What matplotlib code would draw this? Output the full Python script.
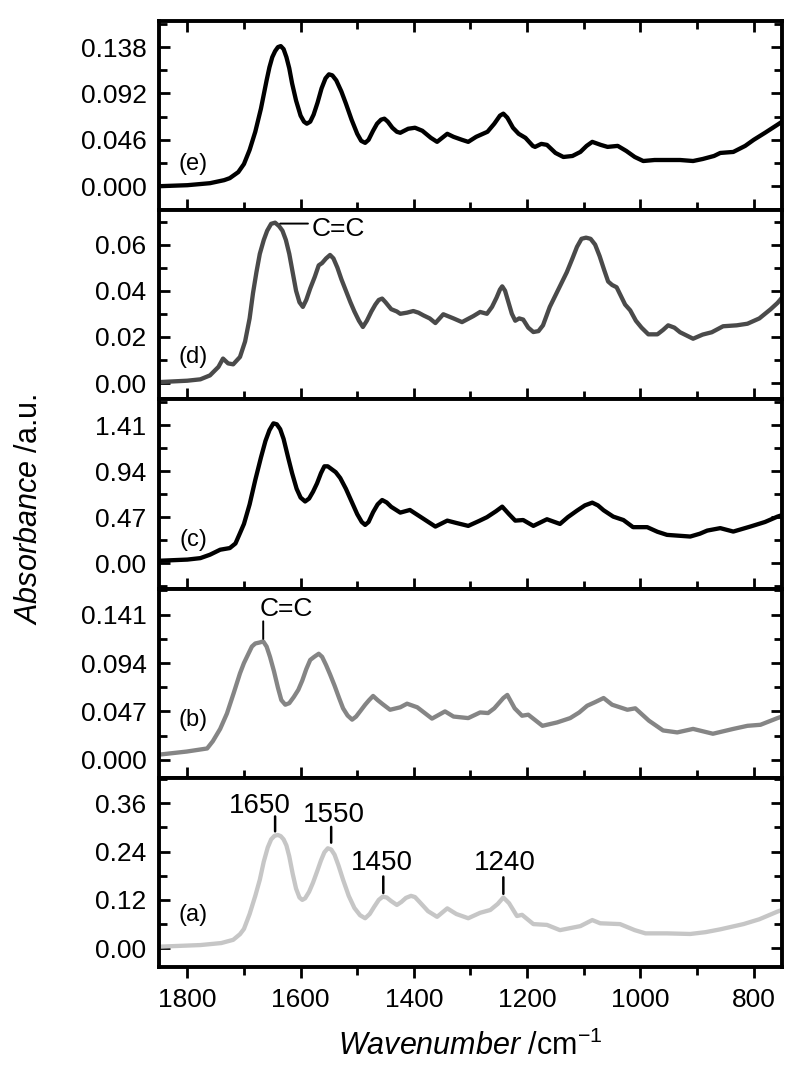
import matplotlib
matplotlib.use("Agg")
import matplotlib.pyplot as plt
from matplotlib.ticker import FixedLocator, FormatStrFormatter

plt.rcParams['font.family'] = ['Liberation Sans', 'DejaVu Sans']
plt.rcParams['mathtext.fontset'] = 'custom'
plt.rcParams['mathtext.rm'] = 'Liberation Sans'
plt.rcParams['mathtext.it'] = 'Liberation Sans:italic'

# ---------------- data ----------------
wn_e = [1850, 1800, 1760, 1735, 1725, 1710, 1700, 1690, 1680, 1670, 1660, 1655, 1650, 1645,
        1640, 1635, 1630, 1625, 1620, 1615, 1608, 1600, 1594, 1589, 1583, 1577, 1570, 1563,
        1556, 1550, 1544, 1537, 1528, 1520, 1510, 1500, 1493, 1486, 1480, 1472, 1465, 1458,
        1452, 1446, 1438, 1430, 1424, 1410, 1398, 1385, 1370, 1359, 1350, 1341, 1330, 1315,
        1304, 1290, 1270, 1258, 1248, 1242, 1235, 1225, 1215, 1203, 1190, 1186, 1175, 1165,
        1150, 1136, 1120, 1106, 1095, 1085, 1070, 1058, 1040, 1025, 1010, 995, 975, 953, 930,
        907, 890, 870, 859, 836, 815, 800, 780, 758, 750]
ab_e = [0.000, 0.001, 0.003, 0.006, 0.008, 0.014, 0.022, 0.036, 0.054, 0.077, 0.105, 0.118,
        0.128, 0.134, 0.138, 0.139, 0.136, 0.128, 0.117, 0.102, 0.085, 0.070, 0.064, 0.062,
        0.064, 0.071, 0.083, 0.097, 0.107, 0.111, 0.110, 0.105, 0.094, 0.082, 0.066, 0.052,
        0.045, 0.043, 0.046, 0.055, 0.062, 0.066, 0.067, 0.064, 0.058, 0.054, 0.053, 0.057,
        0.058, 0.055, 0.048, 0.044, 0.048, 0.052, 0.049, 0.046, 0.044, 0.049, 0.054, 0.062,
        0.070, 0.072, 0.068, 0.058, 0.052, 0.048, 0.040, 0.039, 0.042, 0.041, 0.033, 0.029,
        0.030, 0.034, 0.040, 0.044, 0.041, 0.039, 0.040, 0.035, 0.029, 0.025, 0.026, 0.026,
        0.026, 0.025, 0.027, 0.030, 0.033, 0.034, 0.040, 0.046, 0.053, 0.061, 0.064]

wn_d = [1850, 1800, 1777, 1760, 1745, 1737, 1728, 1719, 1707, 1698, 1690, 1684, 1678, 1672,
        1665, 1659, 1652, 1645, 1638, 1632, 1626, 1620, 1614, 1608, 1602, 1596, 1590, 1583,
        1575, 1568, 1562, 1555, 1548, 1542, 1535, 1528, 1520, 1512, 1505, 1497, 1490, 1483,
        1475, 1468, 1462, 1456, 1450, 1440, 1430, 1424, 1412, 1401, 1392, 1383, 1372, 1362,
        1348, 1340, 1330, 1315, 1295, 1283, 1271, 1262, 1254, 1248, 1244, 1239, 1233, 1227,
        1221, 1214, 1207, 1198, 1189, 1180, 1172, 1166, 1160, 1150, 1140, 1130, 1120, 1112,
        1104, 1096, 1088, 1080, 1072, 1064, 1057, 1050, 1042, 1035, 1027, 1018, 1008, 998,
        986, 970, 960, 951, 940, 930, 907, 890, 874, 854, 830, 811, 790, 770, 758, 750]
ab_d = [0.0004, 0.0010, 0.0016, 0.0033, 0.0070, 0.0106, 0.0085, 0.0081, 0.0113, 0.0180,
        0.0280, 0.0390, 0.0480, 0.0560, 0.0620, 0.0660, 0.0690, 0.0695, 0.0680, 0.0660,
        0.0620, 0.0560, 0.0480, 0.0400, 0.0350, 0.0330, 0.0360, 0.0410, 0.0460, 0.0510,
        0.0520, 0.0540, 0.0555, 0.0540, 0.0500, 0.0450, 0.0400, 0.0350, 0.0310, 0.0270,
        0.0243, 0.0270, 0.0310, 0.0340, 0.0360, 0.0366, 0.0350, 0.0320, 0.0310, 0.0300,
        0.0305, 0.0312, 0.0305, 0.0293, 0.0280, 0.0260, 0.0298, 0.0290, 0.0280, 0.0264,
        0.0290, 0.0308, 0.0300, 0.0330, 0.0370, 0.0405, 0.0419, 0.0400, 0.0350, 0.0300,
        0.0270, 0.0280, 0.0275, 0.0240, 0.0221, 0.0225, 0.0250, 0.0290, 0.0330, 0.0380,
        0.0430, 0.0480, 0.0540, 0.0590, 0.0625, 0.0630, 0.0625, 0.0600, 0.0550, 0.0490,
        0.0440, 0.0425, 0.0415, 0.0380, 0.0340, 0.0315, 0.0270, 0.0240, 0.0211, 0.0211,
        0.0230, 0.0250, 0.0240, 0.0220, 0.0192, 0.0210, 0.0220, 0.0246, 0.0250, 0.0257,
        0.0280, 0.0320, 0.0347, 0.0370]

wn_c = [1850, 1800, 1777, 1760, 1742, 1725, 1715, 1707, 1700, 1690, 1680, 1670, 1662, 1655,
        1648, 1642, 1636, 1630, 1622, 1615, 1607, 1600, 1592, 1585, 1578, 1571, 1564, 1558,
        1552, 1545, 1538, 1530, 1520, 1510, 1500, 1492, 1486, 1480, 1472, 1464, 1456, 1448,
        1440, 1424, 1407, 1385, 1362, 1341, 1325, 1304, 1285, 1271, 1255, 1244, 1232, 1221,
        1207, 1189, 1165, 1142, 1128, 1112, 1098, 1085, 1075, 1065, 1048, 1030, 1013, 988,
        970, 953, 912, 895, 882, 859, 836, 806, 780, 758, 750]
ab_c = [0.023, 0.035, 0.050, 0.085, 0.136, 0.153, 0.200, 0.306, 0.400, 0.600, 0.850, 1.080,
        1.250, 1.360, 1.430, 1.420, 1.370, 1.270, 1.080, 0.920, 0.760, 0.670, 0.630, 0.660,
        0.730, 0.815, 0.920, 0.990, 0.990, 0.960, 0.930, 0.870, 0.760, 0.630, 0.500, 0.420,
        0.390, 0.420, 0.520, 0.600, 0.645, 0.620, 0.575, 0.516, 0.543, 0.460, 0.373, 0.434,
        0.410, 0.380, 0.430, 0.469, 0.530, 0.577, 0.500, 0.434, 0.440, 0.380, 0.448, 0.400,
        0.470, 0.536, 0.590, 0.618, 0.590, 0.540, 0.475, 0.440, 0.367, 0.367, 0.320, 0.288,
        0.271, 0.300, 0.332, 0.357, 0.322, 0.373, 0.420, 0.475, 0.490]

wn_b = [1850, 1801, 1765, 1755, 1742, 1730, 1718, 1707, 1700, 1693, 1686, 1680, 1672, 1666,
        1660, 1654, 1647, 1640, 1634, 1627, 1620, 1612, 1604, 1597, 1590, 1583, 1576, 1568,
        1562, 1555, 1548, 1540, 1532, 1525, 1517, 1509, 1502, 1495, 1486, 1479, 1472, 1464,
        1455, 1442, 1424, 1412, 1394, 1368, 1345, 1330, 1304, 1283, 1269, 1258, 1250, 1242,
        1235, 1228, 1222, 1209, 1198, 1173, 1147, 1124, 1108, 1094, 1080, 1065, 1050, 1023,
        1009, 985, 960, 935, 907, 872, 836, 811, 788, 758, 750]
ab_b = [0.0050, 0.0080, 0.0110, 0.0180, 0.0300, 0.0450, 0.0650, 0.0840, 0.0940, 0.1020,
        0.1100, 0.1130, 0.1140, 0.1150, 0.1100, 0.1000, 0.0860, 0.0700, 0.0580, 0.0535,
        0.0550, 0.0610, 0.0680, 0.0770, 0.0880, 0.0970, 0.1000, 0.1030, 0.1000, 0.0920,
        0.0830, 0.0720, 0.0600, 0.0500, 0.0430, 0.0390, 0.0420, 0.0470, 0.0535, 0.0580,
        0.0620, 0.0580, 0.0540, 0.0486, 0.0510, 0.0545, 0.0510, 0.0400, 0.0470, 0.0420,
        0.0405, 0.0460, 0.0454, 0.0500, 0.0550, 0.0600, 0.0630, 0.0560, 0.0500, 0.0428,
        0.0438, 0.0330, 0.0363, 0.0405, 0.0460, 0.0525, 0.0560, 0.0600, 0.0535, 0.0486,
        0.0500, 0.0380, 0.0285, 0.0266, 0.0300, 0.0253, 0.0300, 0.0330, 0.0340, 0.0405,
        0.0420]

wn_a = [1850, 1777, 1740, 1719, 1707, 1700, 1690, 1680, 1672, 1665, 1658, 1652, 1646, 1640,
        1635, 1630, 1625, 1620, 1614, 1608, 1602, 1597, 1592, 1585, 1578, 1571, 1564, 1558,
        1552, 1546, 1540, 1533, 1525, 1515, 1505, 1495, 1486, 1478, 1470, 1462, 1455, 1448,
        1440, 1430, 1422, 1414, 1405, 1398, 1390, 1375, 1359, 1341, 1325, 1304, 1283, 1265,
        1252, 1242, 1232, 1218, 1209, 1189, 1165, 1142, 1106, 1085, 1071, 1036, 1010, 991,
        953, 912, 885, 859, 818, 790, 758, 750]
ab_a = [0.004, 0.008, 0.013, 0.021, 0.035, 0.048, 0.085, 0.130, 0.170, 0.215, 0.250, 0.270,
        0.279, 0.281, 0.278, 0.270, 0.255, 0.228, 0.185, 0.148, 0.126, 0.120, 0.124, 0.140,
        0.163, 0.190, 0.218, 0.238, 0.248, 0.245, 0.232, 0.205, 0.170, 0.130, 0.100, 0.082,
        0.0745, 0.085, 0.103, 0.120, 0.128, 0.126, 0.117, 0.1075, 0.115, 0.125, 0.130,
        0.127, 0.115, 0.092, 0.078, 0.099, 0.085, 0.0745, 0.088, 0.095, 0.110, 0.126, 0.112,
        0.080, 0.083, 0.060, 0.058, 0.045, 0.055, 0.070, 0.062, 0.060, 0.045, 0.037, 0.037,
        0.0355, 0.040, 0.047, 0.060, 0.072, 0.091, 0.095]

panel_names = ['(e)', '(d)', '(c)', '(b)', '(a)']
panel_colors = ['#000000', '#4a4a4a', '#000000', '#858585', '#c6c6c6']
panel_ylims = [(-0.0238, 0.1639), (-0.0071, 0.0749), (-0.262, 1.675),
               (-0.0175, 0.1663), (-0.0464, 0.4228)]
ticks_e = [0.000, 0.046, 0.092, 0.138]
ticks_d = [0.00, 0.02, 0.04, 0.06]
ticks_c = [0.00, 0.47, 0.94, 1.41]
ticks_b = [0.000, 0.047, 0.094, 0.141]
ticks_a = [0.00, 0.12, 0.24, 0.36]
minor_e = [-0.023, 0.023, 0.069, 0.115, 0.161]
minor_d = [-0.01, 0.01, 0.03, 0.05, 0.07]
minor_c = [-0.235, 0.235, 0.705, 1.175, 1.645]
minor_b = [0.0235, 0.0705, 0.1175, 0.1645]
minor_a = [0.06, 0.18, 0.30, 0.42]
tick_fmts = ['%.3f', '%.2f', '%.2f', '%.3f', '%.2f']
x_major = [1800, 1600, 1400, 1200, 1000, 800]
x_minor = [1700, 1500, 1300, 1100, 900]
label_y = [0.0218, 0.0113, 0.2375, 0.039, 0.0827]

peak_labels_a = ['1650', '1550', '1450', '1240']
peak_wn_a = [1645, 1546, 1454, 1242]
peak_text_wn_a = [1672, 1542, 1456, 1240]
peak_text_y_a = [0.336, 0.314, 0.195, 0.195]
peak_line_top_a = [0.327, 0.301, 0.178, 0.176]
peak_line_bot_a = [0.290, 0.262, 0.137, 0.135]

# ---------------- figure ----------------
W, H = 800, 1077
fig = plt.figure(figsize=(W / 100, H / 100), dpi=100)
left, right, top, bottom = 159 / W, 782 / W, 1 - 21 / H, 1 - 967 / H
ph = (top - bottom) / 5

series = [(wn_e, ab_e), (wn_d, ab_d), (wn_c, ab_c), (wn_b, ab_b), (wn_a, ab_a)]
majors = [ticks_e, ticks_d, ticks_c, ticks_b, ticks_a]
minors = [minor_e, minor_d, minor_c, minor_b, minor_a]

axes = []
for i in range(5):
    ax = fig.add_axes([left, top - (i + 1) * ph, right - left, ph])
    wn, ab = series[i]
    ax.plot(wn, ab, color=panel_colors[i], lw=3.1, solid_joinstyle='round',
            solid_capstyle='round')
    ax.set_xlim(1850, 750)
    ax.set_ylim(*panel_ylims[i])
    ax.yaxis.set_major_locator(FixedLocator(majors[i]))
    ax.yaxis.set_minor_locator(FixedLocator(minors[i]))
    ax.yaxis.set_major_formatter(FormatStrFormatter(tick_fmts[i]))
    ax.xaxis.set_major_locator(FixedLocator(x_major))
    ax.xaxis.set_minor_locator(FixedLocator(x_minor))
    for s in ax.spines.values():
        s.set_linewidth(2.8)
    ax.tick_params(axis='y', which='both', direction='in', left=True, right=True,
                   width=2.0, labelsize=19, pad=9)
    ax.tick_params(axis='y', which='major', length=8)
    ax.tick_params(axis='y', which='minor', length=6)
    if i < 4:
        ax.tick_params(axis='x', which='both', direction='in', bottom=True,
                       top=(i == 0), labelbottom=False, width=2.0)
        ax.tick_params(axis='x', which='major', length=8)
        ax.tick_params(axis='x', which='minor', length=6)
    else:
        ax.tick_params(axis='x', which='both', direction='out', bottom=True, top=False,
                       width=2.0, labelsize=19, pad=7)
        ax.tick_params(axis='x', which='major', length=8)
        ax.tick_params(axis='x', which='minor', length=6)
    ax.text(1790, label_y[i], panel_names[i], fontsize=17, ha='center', va='center')
    axes.append(ax)

# annotations panel (a)
ax_a = axes[4]
for lab, wpk, wt, yt, y1, y0 in zip(peak_labels_a, peak_wn_a, peak_text_wn_a,
                                    peak_text_y_a, peak_line_top_a, peak_line_bot_a):
    ax_a.annotate('', xy=(wpk, y0), xytext=(wpk, y1),
                  arrowprops=dict(arrowstyle='-', lw=1.8, color='black',
                                  shrinkA=0, shrinkB=0))
    ax_a.text(wt, yt, lab, fontsize=20, ha='center', va='baseline')

# annotation panel (d): C=C
ax_d = axes[1]
ax_d.annotate('', xy=(1636, 0.0691), xytext=(1587, 0.0691),
              arrowprops=dict(arrowstyle='-', lw=1.4, color='black', shrinkA=0, shrinkB=0))
ax_d.text(1580, 0.0666, 'C=C', fontsize=19, ha='left', va='center')

# annotation panel (b): C=C
ax_b = axes[3]
ax_b.annotate('', xy=(1666, 0.1174), xytext=(1666, 0.1345),
              arrowprops=dict(arrowstyle='-', lw=1.4, color='black', shrinkA=0, shrinkB=0))
ax_b.text(1672, 0.1394, 'C=C', fontsize=19, ha='left', va='baseline')

fig.text(470 / W, 1 - 1046 / H, r'$\mathit{Wavenumber}$ /cm$^{-1}$', fontsize=22,
         ha='center', va='center')
fig.text(29 / W, 1 - 509 / H, r'$\mathit{Absorbance}$ /a.u.', fontsize=22,
         ha='center', va='center', rotation=90)

fig.savefig('out.png', dpi=100)
